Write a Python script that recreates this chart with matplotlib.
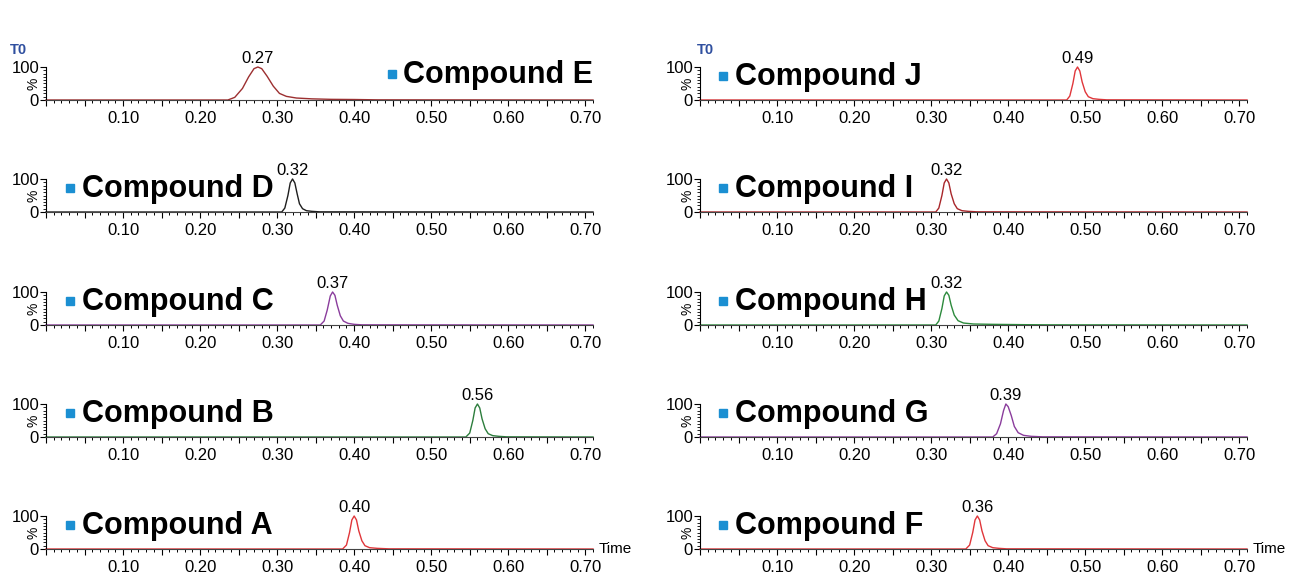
import matplotlib
matplotlib.use("Agg")
import matplotlib.pyplot as plt
from matplotlib.ticker import MultipleLocator, FuncFormatter

plt.rcParams['font.family'] = ['Liberation Sans', 'DejaVu Sans']

# 크로마토그램 데이터 (그림에서 읽은 값, %)
names_left = ["Compound E", "Compound D", "Compound C", "Compound B", "Compound A"]
names_right = ["Compound J", "Compound I", "Compound H", "Compound G", "Compound F"]

rt_labels = {
    "Compound E": "0.27", "Compound D": "0.32", "Compound C": "0.37",
    "Compound B": "0.56", "Compound A": "0.40", "Compound J": "0.49",
    "Compound I": "0.32", "Compound H": "0.32", "Compound G": "0.39",
    "Compound F": "0.36",
}
apex_time = {
    "Compound E": 0.275, "Compound D": 0.320, "Compound C": 0.372,
    "Compound B": 0.560, "Compound A": 0.400, "Compound J": 0.490,
    "Compound I": 0.320, "Compound H": 0.320, "Compound G": 0.397,
    "Compound F": 0.360,
}

times_e = [0, 0.236, 0.245, 0.255, 0.263, 0.270, 0.275, 0.280, 0.287, 0.295, 0.303, 0.312, 0.325, 0.345, 0.370, 0.400, 0.430, 0.71]
pct_e = [0, 0, 8, 35, 70, 95, 100, 95, 72, 42, 20, 11, 6, 3.5, 2, 1.5, 0.5, 0]

times_d = [0, 0.306, 0.310, 0.314, 0.317, 0.320, 0.323, 0.326, 0.329, 0.333, 0.338, 0.345, 0.355, 0.71]
pct_d = [0, 0, 12, 50, 88, 100, 88, 55, 25, 10, 4, 2, 0.5, 0]

times_c = [0, 0.356, 0.361, 0.365, 0.369, 0.372, 0.375, 0.378, 0.382, 0.386, 0.392, 0.400, 0.410, 0.71]
pct_c = [0, 0, 12, 45, 88, 100, 90, 60, 28, 12, 5, 2, 0.5, 0]

times_b = [0, 0.545, 0.550, 0.554, 0.557, 0.560, 0.563, 0.566, 0.570, 0.574, 0.580, 0.588, 0.598, 0.71]
pct_b = [0, 0, 12, 50, 88, 100, 88, 55, 25, 10, 4, 2, 0.5, 0]

times_a = [0, 0.385, 0.390, 0.394, 0.397, 0.400, 0.403, 0.406, 0.410, 0.414, 0.420, 0.430, 0.445, 0.71]
pct_a = [0, 0, 12, 50, 88, 100, 88, 55, 25, 10, 4, 2, 0.5, 0]

times_j = [0, 0.476, 0.480, 0.484, 0.487, 0.490, 0.493, 0.496, 0.500, 0.504, 0.510, 0.518, 0.528, 0.71]
pct_j = [0, 0, 12, 50, 88, 100, 88, 55, 25, 10, 4, 2, 0.5, 0]

times_i = [0, 0.306, 0.310, 0.314, 0.317, 0.320, 0.323, 0.326, 0.330, 0.334, 0.340, 0.348, 0.360, 0.71]
pct_i = [0, 0, 12, 50, 88, 100, 88, 55, 25, 10, 4, 2, 0.5, 0]

times_h = [0, 0.306, 0.310, 0.314, 0.317, 0.320, 0.323, 0.326, 0.330, 0.335, 0.342, 0.355, 0.380, 0.420, 0.450, 0.71]
pct_h = [0, 0, 12, 50, 88, 100, 90, 60, 30, 13, 6, 3, 2, 1, 0.5, 0]

times_g = [0, 0.380, 0.385, 0.390, 0.394, 0.397, 0.400, 0.404, 0.408, 0.413, 0.420, 0.430, 0.445, 0.71]
pct_g = [0, 0, 10, 40, 80, 100, 92, 65, 32, 13, 5, 2, 0.5, 0]

times_f = [0, 0.345, 0.350, 0.354, 0.357, 0.360, 0.363, 0.366, 0.370, 0.374, 0.380, 0.388, 0.398, 0.71]
pct_f = [0, 0, 12, 50, 88, 100, 88, 55, 25, 10, 4, 2, 0.5, 0]

traces = {
    "Compound E": (times_e, pct_e), "Compound D": (times_d, pct_d),
    "Compound C": (times_c, pct_c), "Compound B": (times_b, pct_b),
    "Compound A": (times_a, pct_a), "Compound J": (times_j, pct_j),
    "Compound I": (times_i, pct_i), "Compound H": (times_h, pct_h),
    "Compound G": (times_g, pct_g), "Compound F": (times_f, pct_f),
}
colors = {
    "Compound E": "#9c2f30", "Compound D": "#1e1e1e", "Compound C": "#8a3c9c",
    "Compound B": "#2c7d3c", "Compound A": "#e0363a", "Compound J": "#e0363a",
    "Compound I": "#a8262a", "Compound H": "#2c8a3c", "Compound G": "#8a3c9c",
    "Compound F": "#e0363a",
}

fig = plt.figure(figsize=(12.92, 5.75), dpi=100)

W, H = 1292.0, 575.0
col_left = [46 / W, 700 / W]
ax_w = 547 / W
row_base = [100, 212, 325, 437, 549]
ax_h = 33 / H


def fmt_x(x, pos):
    k = int(round(x * 100))
    if k > 0 and k % 10 == 0:
        return "%.2f" % x
    return ""


for c, names in enumerate([names_left, names_right]):
    for r, name in enumerate(names):
        ax = fig.add_axes([col_left[c], 1 - row_base[r] / H, ax_w, ax_h])
        t, y = traces[name]
        ax.plot(t, y, color=colors[name], lw=1.0, clip_on=False)
        ax.set_xlim(0, 0.71)
        ax.set_ylim(0, 100)

        for s in ["top", "right"]:
            ax.spines[s].set_visible(False)
        ax.spines["left"].set_linewidth(0.8)
        ax.spines["bottom"].set_linewidth(0.8)
        ax.spines["bottom"].set_color("#444444")

        ax.xaxis.set_major_locator(MultipleLocator(0.05))
        ax.xaxis.set_minor_locator(MultipleLocator(0.01))
        ax.xaxis.set_major_formatter(FuncFormatter(fmt_x))
        ax.tick_params(axis="x", which="major", length=4, width=0.8, pad=4,
                       labelsize=12, direction="out")
        ax.tick_params(axis="x", which="minor", length=2.5, width=0.7, direction="out")

        ax.set_yticks([0, 100])
        ax.set_yticklabels(["0", "100"])
        ax.yaxis.set_minor_locator(MultipleLocator(10))
        ax.tick_params(axis="y", which="major", length=4, width=0.8, pad=1,
                       labelsize=12)
        ax.tick_params(axis="y", which="minor", length=2, width=0.6)
        # "%" 라벨은 눈금 라벨 사이에
        ax.text(-0.022, 0.5, "%", transform=ax.transAxes, rotation=90,
                ha="center", va="center", fontsize=10)

        # 피크 라벨
        ax.text(apex_time[name], 104, rt_labels[name], ha="center", va="bottom",
                fontsize=12)

        # 화합물 이름 라벨
        if name == "Compound E":
            sq_x, tx_x, base_y = 0.632, 0.652, 0.52
        elif c == 0:
            sq_x, tx_x, base_y = 0.044, 0.066, 0.45
        else:
            sq_x, tx_x, base_y = 0.042, 0.064, 0.45
        ax.plot([sq_x], [base_y + 0.28], marker="s", ms=6, color="#1b8fd2",
                transform=ax.transAxes, clip_on=False)
        ax.text(tx_x, base_y, name, transform=ax.transAxes, ha="left",
                va="baseline", fontsize=22, fontweight="bold", color="black")

        if r == 4:
            ax.text(1.01, 0.0, "Time", transform=ax.transAxes, ha="left",
                    va="center", fontsize=11)

fig.text(10 / W, 1 - 50 / H, "T0", fontsize=10.5, fontweight="bold",
         color="#2f4f9f", ha="left", va="center")
fig.text(697 / W, 1 - 50 / H, "T0", fontsize=10.5, fontweight="bold",
         color="#2f4f9f", ha="left", va="center")

fig.savefig("out.png", dpi=100)
